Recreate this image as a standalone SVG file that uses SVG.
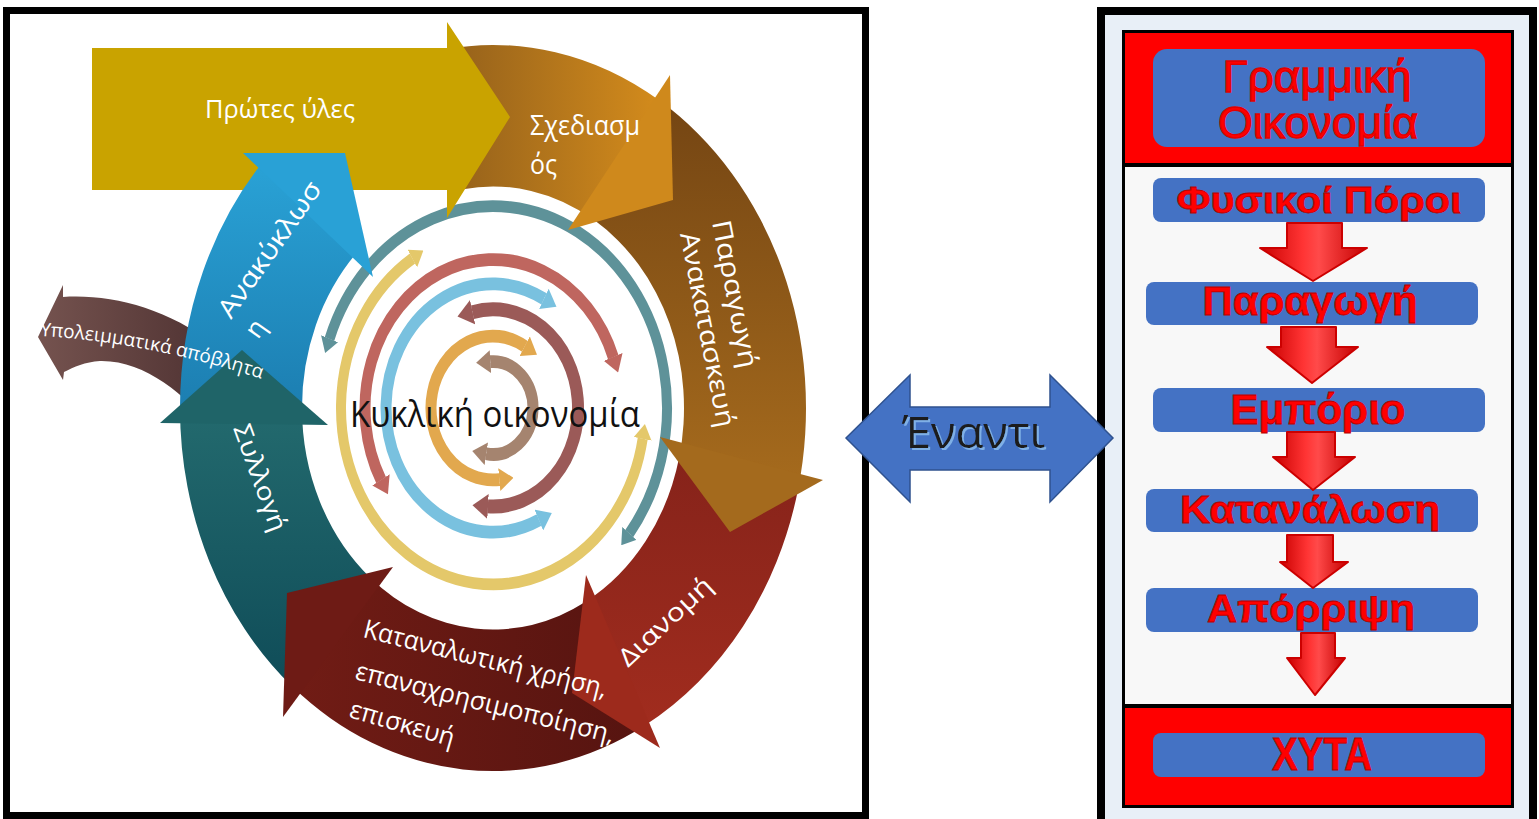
<svg xmlns="http://www.w3.org/2000/svg" width="1539" height="819" viewBox="0 0 1539 819">
  <defs>
    <style>
      .w { font-family: 'Open Sans', 'Noto Sans', 'DejaVu Sans', sans-serif; fill: #ffffff; }
      .ring { fill: none; }
      .rt { font-family: 'Liberation Sans', Arial, sans-serif; font-weight: bold; fill: #ff0000; stroke: #b50000; stroke-width: 0.8; text-anchor: middle; }
      .rth { font-family: 'Liberation Sans', Arial, sans-serif; font-weight: normal; fill: #ff0000; stroke: #e00000; stroke-width: 1.3; text-anchor: middle; }
      .bx { fill: #4472c4; }
      .dn { stroke: #cc0000; stroke-width: 2; stroke-linejoin: round; fill: url(#redArrow); }
    </style>

    <!-- arrowheads for the inner circular arrows -->
    <marker id="mTeal" viewBox="0 -0.9 1.3 1.8" markerWidth="1.3" markerHeight="1.8" refX="0.02" refY="0" orient="auto-start-reverse"><path d="M0,-0.9 L1.3,0 L0,0.9 Z" fill="#5e9299"/></marker>
    <marker id="mYel" viewBox="0 -0.9 1.3 1.8" markerWidth="1.3" markerHeight="1.8" refX="0.02" refY="0" orient="auto-start-reverse"><path d="M0,-0.9 L1.3,0 L0,0.9 Z" fill="#e4c86a"/></marker>
    <marker id="mSal" viewBox="0 -0.9 1.3 1.8" markerWidth="1.3" markerHeight="1.8" refX="0.02" refY="0" orient="auto-start-reverse"><path d="M0,-0.9 L1.3,0 L0,0.9 Z" fill="#bf665f"/></marker>
    <marker id="mSky" viewBox="0 -0.9 1.3 1.8" markerWidth="1.3" markerHeight="1.8" refX="0.02" refY="0" orient="auto-start-reverse"><path d="M0,-0.9 L1.3,0 L0,0.9 Z" fill="#79c1df"/></marker>
    <marker id="mMau" viewBox="0 -0.9 1.3 1.8" markerWidth="1.3" markerHeight="1.8" refX="0.02" refY="0" orient="auto-start-reverse"><path d="M0,-0.9 L1.3,0 L0,0.9 Z" fill="#9b5a58"/></marker>
    <marker id="mOra" viewBox="0 -0.9 1.3 1.8" markerWidth="1.3" markerHeight="1.8" refX="0.02" refY="0" orient="auto-start-reverse"><path d="M0,-0.9 L1.3,0 L0,0.9 Z" fill="#e2a84e"/></marker>
    <marker id="mTan" viewBox="0 -0.9 1.3 1.8" markerWidth="1.3" markerHeight="1.8" refX="0.02" refY="0" orient="auto-start-reverse"><path d="M0,-0.9 L1.3,0 L0,0.9 Z" fill="#a5846f"/></marker>

    <!-- band fills -->
    <linearGradient id="gOrange" x1="0" y1="0" x2="1" y2="0"><stop offset="0" stop-color="#93601b"/><stop offset="1" stop-color="#d38b1c"/></linearGradient>
    <linearGradient id="gBrown" x1="0" y1="0" x2="0" y2="1"><stop offset="0" stop-color="#744513"/><stop offset="1" stop-color="#a66b1d"/></linearGradient>
    <linearGradient id="gRed" x1="0" y1="0" x2="0" y2="1"><stop offset="0" stop-color="#86231a"/><stop offset="1" stop-color="#a12c1e"/></linearGradient>
    <linearGradient id="gDark" x1="0" y1="0" x2="1" y2="0"><stop offset="0" stop-color="#711c15"/><stop offset="1" stop-color="#561410"/></linearGradient>
    <linearGradient id="gTeal" x1="0" y1="0" x2="0" y2="1"><stop offset="0" stop-color="#236a6e"/><stop offset="1" stop-color="#0f4c58"/></linearGradient>
    <linearGradient id="gBlue" x1="0" y1="0" x2="0" y2="1"><stop offset="0" stop-color="#2aa3d7"/><stop offset="1" stop-color="#1c7eb1"/></linearGradient>
    <linearGradient id="gWaste" x1="0" y1="0" x2="1" y2="0"><stop offset="0" stop-color="#75534f"/><stop offset="1" stop-color="#4f3232"/></linearGradient>
    <linearGradient id="redArrow" x1="0" y1="0" x2="1" y2="0"><stop offset="0" stop-color="#c80000"/><stop offset="0.4" stop-color="#ff3434"/><stop offset="0.55" stop-color="#ff4a4a"/><stop offset="1" stop-color="#c40000"/></linearGradient>

    <filter id="blueShadow" x="-10%" y="-20%" width="130%" height="150%">
      <feDropShadow dx="2" dy="2" stdDeviation="0.6" flood-color="#7fb0e6" flood-opacity="1"/>
    </filter>

    <path id="wastePath" d="M 40 336 Q 150 342 268 381"/>
  </defs>

  <rect width="1539" height="819" fill="#ffffff"/>

  <!-- ===== circular economy panel ===== -->
  <g id="circular-panel">
    <rect x="6.5" y="10.5" width="859" height="805" fill="#ffffff" stroke="#000000" stroke-width="7"/>

    <!-- inner concentric double arrows -->
    <g id="inner-rings" transform="translate(493 408) scale(1 1.16)">
      <path class="ring" stroke="#5e9299" stroke-width="10" marker-start="url(#mTeal)" marker-end="url(#mTeal)" d="M -163.5 -59.5 A 174 174 0 1 1 136.2 108.3"/>
      <path class="ring" stroke="#e4c86a" stroke-width="10" marker-start="url(#mYel)" marker-end="url(#mYel)" d="M 149.7 26.4 A 152 152 0 1 1 -80.5 -128.9"/>
      <path class="ring" stroke="#bf665f" stroke-width="11" marker-start="url(#mSal)" marker-end="url(#mSal)" d="M -111.9 62.1 A 128 128 0 1 1 120.3 -43.8"/>
      <path class="ring" stroke="#79c1df" stroke-width="11" marker-start="url(#mSky)" marker-end="url(#mSky)" d="M 46.1 96.6 A 107 107 0 1 1 51.1 -94"/>
      <path class="ring" stroke="#9b5a58" stroke-width="12" marker-start="url(#mMau)" marker-end="url(#mMau)" d="M -20.6 -82.5 A 85 85 0 1 1 -5.2 84.8"/>
      <path class="ring" stroke="#e2a84e" stroke-width="11" marker-start="url(#mOra)" marker-end="url(#mOra)" d="M 6.5 61.7 A 62 62 0 1 1 31.9 -53.1"/>
      <path class="ring" stroke="#a5846f" stroke-width="11" marker-start="url(#mTan)" marker-end="url(#mTan)" d="M -2.8 -39.9 A 40 40 0 1 1 -6.9 39.4"/>
    </g>

    <!-- residual waste arrow -->
    <g id="node-waste">
      <path fill="url(#gWaste)" d="M 38 337 L 63 285 L 63 297 C 110 294 165 307 215 345 L 215 430 C 185 395 145 360 100 361 C 85 362 74 367 64 372 L 63 380 Z"/>
    </g>

    <!-- orange band sits under the raw-materials arrow -->
    <g id="node-design-body" transform="translate(493 408) scale(1 1.16)">
      <path fill="url(#gOrange)" d="M -48.95 -309.15 A 313 313 0 0 1 165.86 -265.42 L 101.21 -161.97 A 191 191 0 0 0 -29.87 -188.65 Z"/>
    </g>

    <g id="node-raw">
      <path fill="#c9a300" d="M 92 48 L 447 48 L 447 22 L 510 117 L 447 218 L 447 190 L 92 190 Z"/>
    </g>

    <g id="band-bodies" transform="translate(493 408) scale(1 1.16)">
      <path id="node-production-body" fill="url(#gBrown)" d="M 165.86 -265.42 A 313 313 0 0 1 304.99 70.43 L 186.11 42.98 A 191 191 0 0 0 101.21 -161.97 Z"/>
      <path id="node-distribution-body" fill="url(#gRed)" d="M 304.99 70.43 A 313 313 0 0 1 151.74 273.75 L 92.6 167.05 A 191 191 0 0 0 186.11 42.98 Z"/>
      <path id="node-consumption-body" fill="url(#gDark)" d="M 151.74 273.75 A 313 313 0 0 1 -201.2 239.76 L -122.77 146.31 A 191 191 0 0 0 92.6 167.05 Z"/>
      <path id="node-collection-body" fill="url(#gTeal)" d="M -201.2 239.76 A 313 313 0 0 1 -313 0 L -191 0 A 191 191 0 0 0 -122.77 146.31 Z"/>
      <path id="node-recycling-body" fill="url(#gBlue)" d="M -313 0 A 313 313 0 0 1 -225.14 -217.44 L -137.39 -132.69 A 191 191 0 0 0 -191 0 Z"/>
    </g>

    <!-- arrow heads of the band -->
    <g id="band-heads">
      <polygon fill="#cf891c" points="670,75 673,200 568,230"/>
      <polygon fill="#a46a1d" points="823,480 730,532 660,437"/>
      <polygon fill="#9d2a1c" points="586,575 572,693 660,748"/>
      <polygon fill="#6e1b15" points="393,567 287,593 283,717"/>
      <polygon fill="#1f6468" points="160,423 242,350 328,425"/>
      <polygon fill="#29a1d6" points="243,153 345,153 373,277"/>
    </g>

    <!-- labels -->
    <g id="band-labels">
      <text class="w" x="280" y="118" font-size="25" text-anchor="middle" textLength="150" lengthAdjust="spacingAndGlyphs">Πρώτες ύλες</text>
      <text class="w" x="530" y="135" font-size="27" textLength="110" lengthAdjust="spacingAndGlyphs">Σχεδιασμ</text>
      <text class="w" x="530" y="174" font-size="27" textLength="27" lengthAdjust="spacingAndGlyphs">ός</text>
      <text class="w" font-size="26" transform="translate(712 222) rotate(79)" textLength="150" lengthAdjust="spacingAndGlyphs">Παραγωγή</text>
      <text class="w" font-size="26" transform="translate(680 234) rotate(79)" textLength="198" lengthAdjust="spacingAndGlyphs">Ανακατασκευή</text>
      <text class="w" font-size="25" transform="translate(628 668) rotate(-43)" textLength="118" lengthAdjust="spacingAndGlyphs">Διανομή</text>
      <text class="w" font-size="26" transform="translate(362 637) rotate(14)" textLength="250" lengthAdjust="spacingAndGlyphs">Καταναλωτική χρήση,</text>
      <text class="w" font-size="26" transform="translate(354 679) rotate(14)" textLength="266" lengthAdjust="spacingAndGlyphs">επαναχρησιμοποίηση,</text>
      <text class="w" font-size="26" transform="translate(348 717) rotate(16)" textLength="108" lengthAdjust="spacingAndGlyphs">επισκευή</text>
      <text class="w" font-size="25" transform="translate(233 428) rotate(70)" textLength="112" lengthAdjust="spacingAndGlyphs">Συλλογή</text>
      <text class="w" font-size="26" transform="translate(231 320) rotate(-55)" textLength="160" lengthAdjust="spacingAndGlyphs">Ανακύκλωσ</text>
      <text class="w" font-size="26" transform="translate(258 340) rotate(-55)">η</text>
      <text class="w" font-size="19" fill="#f4eeee"><textPath href="#wastePath" textLength="226" lengthAdjust="spacingAndGlyphs">Υπολειμματικά απόβλητα</textPath></text>
    </g>

    <g id="node-center">
      <text x="350" y="427" font-family="'Open Sans', 'Noto Sans', sans-serif" font-size="37" fill="#111111" textLength="290" lengthAdjust="spacingAndGlyphs">Κυκλική οικονομία</text>
    </g>
  </g>

  <!-- ===== linear economy panel ===== -->
  <g id="linear-panel">
    <rect x="1101" y="11" width="432" height="830" fill="#e8eff7" stroke="#000000" stroke-width="8"/>
    <rect x="1123.5" y="31.5" width="389" height="775" fill="#f8f8f8" stroke="#000000" stroke-width="3"/>
    <rect x="1125" y="33" width="386" height="131" fill="#ff0000"/>
    <rect x="1123" y="163" width="390" height="4" fill="#000000"/>
    <rect x="1123" y="704" width="390" height="4" fill="#000000"/>
    <rect x="1125" y="708" width="386" height="97" fill="#ff0000"/>

    <g id="node-title">
      <rect class="bx" x="1153" y="49" width="332" height="98" rx="14"/>
      <text class="rth" x="1317" y="92" font-size="44" textLength="189" lengthAdjust="spacingAndGlyphs">Γραμμική</text>
      <text class="rth" x="1318" y="138" font-size="44" textLength="200" lengthAdjust="spacingAndGlyphs">Οικονομία</text>
    </g>
    <g id="node-resources"><rect class="bx" x="1153" y="178" width="332" height="44" rx="8"/></g>
    <g id="node-production"><rect class="bx" x="1146" y="282" width="332" height="43" rx="8"/></g>
    <g id="node-trade"><rect class="bx" x="1153" y="388" width="332" height="44" rx="8"/></g>
    <g id="node-consumption"><rect class="bx" x="1146" y="489" width="332" height="43" rx="8"/></g>
    <g id="node-disposal"><rect class="bx" x="1146" y="588" width="332" height="44" rx="8"/></g>
    <g id="node-landfill"><rect class="bx" x="1153" y="733" width="332" height="44" rx="8"/></g>
  </g>

  <!-- connectors -->
  <g id="connectors">
    <polygon class="dn" points="1287,223 1342,223 1342,248 1367,248 1313,281 1260,248 1287,248"/>
    <polygon class="dn" points="1281,327 1336,327 1336,347 1358,347 1312,383 1267,347 1281,347"/>
    <polygon class="dn" points="1287,432 1335,432 1335,457 1355,457 1313,490 1273,457 1287,457"/>
    <polygon class="dn" points="1287,535 1333,535 1333,562 1348,562 1313,588 1280,562 1287,562"/>
    <polygon class="dn" points="1301,633 1335,633 1335,658 1345,658 1315,695 1287,658 1301,658"/>

    <g id="link-versus">
      <polygon points="846,438 910,375 910,407 1050,407 1050,375 1113,438 1050,502 1050,470 910,470 910,502" fill="#4472c4" stroke="#2f528f" stroke-width="1.5"/>
      <text x="902" y="448" font-family="'Open Sans', 'Noto Sans', sans-serif" font-size="44" fill="#1c1c1c" filter="url(#blueShadow)" textLength="143" lengthAdjust="spacingAndGlyphs">Έναντι</text>
    </g>
  </g>

  <!-- linear panel labels (above the arrows) -->
  <g id="linear-labels">
    <text class="rt" x="1319" y="213" font-size="37" textLength="285" lengthAdjust="spacingAndGlyphs">Φυσικοί Πόροι</text>
    <text class="rt" x="1310" y="315" font-size="40" textLength="215" lengthAdjust="spacingAndGlyphs">Παραγωγή</text>
    <text class="rt" x="1318" y="424" font-size="42" textLength="175" lengthAdjust="spacingAndGlyphs">Εμπόριο</text>
    <text class="rt" x="1310" y="523" font-size="38" textLength="260" lengthAdjust="spacingAndGlyphs">Κατανάλωση</text>
    <text class="rt" x="1311" y="622" font-size="38" textLength="208" lengthAdjust="spacingAndGlyphs">Απόρριψη</text>
    <text class="rt" x="1322" y="770" font-size="46" textLength="100" lengthAdjust="spacingAndGlyphs">ΧΥΤΑ</text>
  </g>
</svg>
